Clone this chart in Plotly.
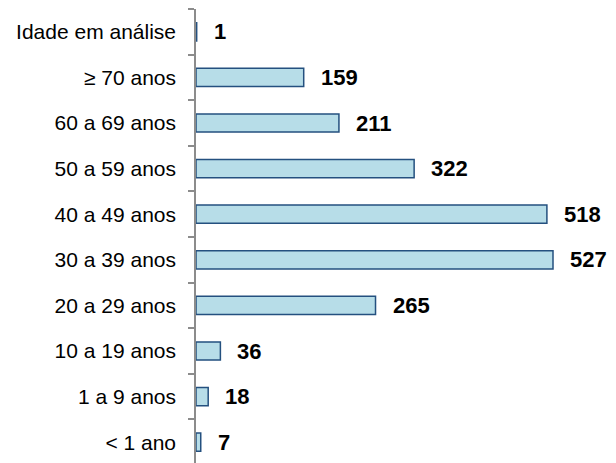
import plotly.graph_objects as go

categories = ["< 1 ano", "1 a 9 anos", "10 a 19 anos", "20 a 29 anos", "30 a 39 anos",
              "40 a 49 anos", "50 a 59 anos", "60 a 69 anos", "≥ 70 anos", "Idade em análise"]
values = [7, 18, 36, 265, 527, 518, 322, 211, 159, 1]

fig = go.Figure()
fig.add_trace(go.Bar(
    x=values, y=categories, orientation="h",
    marker=dict(color="#b7dde8", line=dict(color="#24507f", width=1.5)),
    hoverinfo="skip",
))

for c, v in zip(categories, values):
    fig.add_annotation(x=v, y=c, text=f"<b>{v}</b>", showarrow=False,
                       xanchor="left", yanchor="middle", xshift=15,
                       font=dict(family="Liberation Sans, Arial", size=22, color="#000000"))

# page body has an 8px margin, so the figure is sized/offset to compensate
fig.update_layout(
    width=608, height=457,
    margin=dict(l=188, r=0, t=1, b=0, autoexpand=False),
    paper_bgcolor="white", plot_bgcolor="white",
    bargap=0.6, showlegend=False,
    font=dict(family="Liberation Sans, Arial", size=21, color="#000000"),
)
fig.update_xaxes(range=[0, 620], visible=False, showgrid=False, zeroline=False,
                 automargin=False)
fig.update_yaxes(type="category", categoryorder="array", categoryarray=categories,
                 range=[-0.5, 9.5], showline=True, linecolor="#8c8c8c", linewidth=1.5,
                 ticks="outside", tickson="boundaries", ticklen=6, tickcolor="#8c8c8c",
                 tickwidth=1.5, ticklabelstandoff=14, showgrid=False, automargin=False,
                 tickfont=dict(family="Liberation Sans, Arial", size=21, color="#000000"))

fig.write_html("out.html")
